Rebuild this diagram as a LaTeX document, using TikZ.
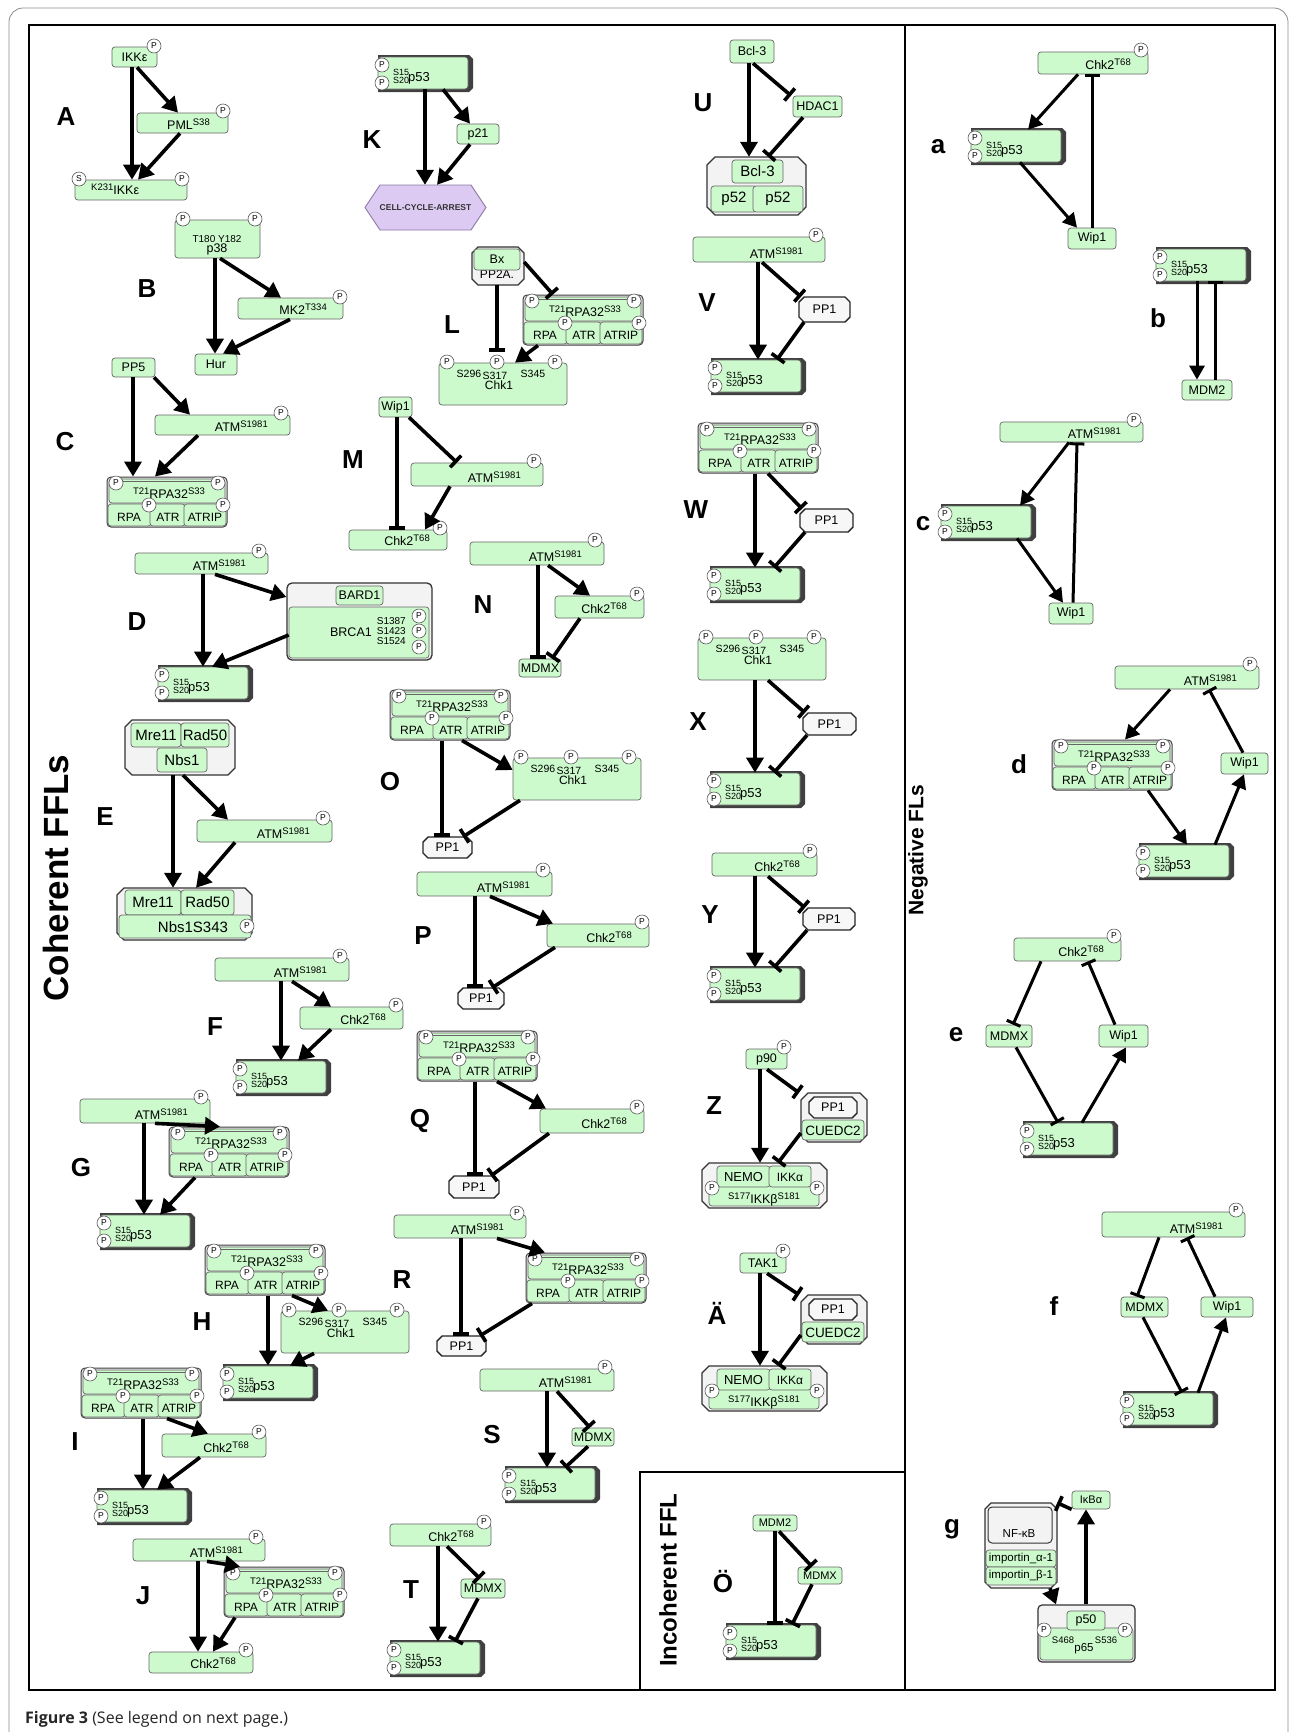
\documentclass[tikz,border=0pt]{standalone}
\usepackage{fontspec}
\setmainfont{Liberation Sans}
\newfontfamily\capfont{Open Sans}
\usetikzlibrary{arrows.meta,calc}
\definecolor{pg}{RGB}{204,250,204}
\definecolor{cxg}{RGB}{243,243,243}
\definecolor{hexc}{RGB}{220,202,243}
\definecolor{hexd}{RGB}{140,120,165}
\newcommand\fs[1]{\fontsize{#1}{#1}\selectfont}
\newcommand\sps[1]{\raisebox{3.5pt}{\fs{9.5}#1}}
\newcounter{pcn}\newcounter{tn}
\tikzset{
  gb/.style={draw=black!60, fill=pg, rounded corners=3pt, line width=0.7pt, inner sep=0pt, font=\fs{12.5}},
  gbd/.style={draw=black!60, fill=pg, rounded corners=3pt, line width=0.7pt},
  cxd/.style={draw=black!80, fill=cxg, line width=1.3pt},
  pc/.style={circle, draw=black!65, fill=white, minimum size=14pt, inner sep=0pt, line width=0.6pt, font=\fs{8.5}},
  tx/.style={inner sep=0pt, font=\fs{12.5}},
  lab/.style={inner sep=0pt, font=\fs{26}\bfseries},
  sect/.style={inner sep=0pt, font=\fs{24}\bfseries, rotate=90},
  hid/.style={inner sep=0pt, draw=none, fill=none},
  act/.style={line width=3.6pt, -{Triangle[length=15pt,width=17pt]}},
  inh/.style={line width=3.6pt, -{Bar[width=16pt]}},
  actn/.style={line width=3pt, -{Triangle[length=14pt,width=15pt]}},
  inhn/.style={line width=3pt, -{Bar[width=15pt]}},
}
\newcommand\gbx[6]{\node[gb, minimum width={(#4)-(#2)}, minimum height={(#5)-(#3)}] (#1) at ({((#2)+(#4))/2},{((#3)+(#5))/2}) {#6};}
\newcommand\hbx[5]{\node[hid, minimum width={(#4)-(#2)}, minimum height={(#5)-(#3)}] (#1) at ({((#2)+(#4))/2},{((#3)+(#5))/2}) {};}
\newcommand\oct[6]{\draw[#1] ({(#2)+(#6)},{#3}) -- ({(#4)-(#6)},{#3}) -- ({#4},{(#3)+(#6)}) -- ({#4},{(#5)-(#6)}) -- ({(#4)-(#6)},{#5}) -- ({(#2)+(#6)},{#5}) -- ({#2},{(#5)-(#6)}) -- ({#2},{(#3)+(#6)}) -- cycle;}
\newcommand\Pc[3][P]{\stepcounter{pcn}\node[pc] (pc\arabic{pcn}) at ({#2},{#3}) {#1};}
\newcommand\Tx[4][]{\stepcounter{tn}\node[tx,#1] (t\arabic{tn}) at ({#2},{#3}) {#4};}
% ATM box
\newcommand\ATM[5]{\gbx{#1}{#2}{#3}{#4}{#5}{}\Tx[anchor=base east]{#4-22}{#5-4}{ATM\sps{S1981}}\Pc{#4-9}{#3-2}}
% Chk2 box
\newcommand\CHK[5]{\gbx{#1}{#2}{#3}{#4}{#5}{}\Tx[anchor=base east]{#4-17}{#5-5}{Chk2\sps{T68}}\Pc{#4-7}{#3-2}}
% p53 (top-left corner)
\newcommand\PFT[3]{%
 \fill[black!75] (#2+3,#3) -- (#2+94,#3) -- (#2+98,#3+4) -- (#2+98,#3+33) -- (#2+94,#3+37) -- (#2+3,#3+37) -- cycle;
 \node[gb, minimum width=90pt, minimum height=32pt] (#1) at (#2+48,#3+18) {};
 \Tx[anchor=base west, font=\fs{9}]{#2+18}{#3+20}{S15}
 \Tx[anchor=base west, font=\fs{9}]{#2+18}{#3+28}{S20}
 \Tx[anchor=base west, font=\fs{13}]{#2+33}{#3+26}{p53}
 \Pc{#2+7}{#3+10}\Pc{#2+7}{#3+28}}
% RPA complex (top-left corner)
\newcommand\RPA[3]{%
 \node[draw=black!75, fill=black!8, rounded corners=4pt, line width=1pt, inner sep=0pt, minimum width=120pt, minimum height=50pt] (#1) at (#2+60,#3+25) {};
 \draw[gbd] (#2+2,#3+2) rectangle (#2+118,#3+26);
 \draw[black!60, line width=0.8pt] (#2+7,#3+4.5) -- (#2+113,#3+4.5);
 \draw[gbd] (#2+1,#3+27) rectangle (#2+44,#3+49);
 \draw[gbd] (#2+43,#3+27) rectangle (#2+78,#3+49);
 \draw[gbd] (#2+77,#3+27) rectangle (#2+119,#3+49);
 \Tx[anchor=base]{#2+62}{#3+21}{\sps{T21}RPA32\sps{S33}}
 \Tx[anchor=base, font=\fs{12}]{#2+22}{#3+44}{RPA}
 \Tx[anchor=base, font=\fs{12}]{#2+61}{#3+44}{ATR}
 \Tx[anchor=base, font=\fs{12}]{#2+98}{#3+44}{ATRIP}
 \Pc{#2+9}{#3+6}\Pc{#2+111}{#3+6}\Pc{#2+42}{#3+28}\Pc{#2+116}{#3+28}}
% Chk1 (top-left corner)
\newcommand\CHKone[3]{%
 \node[gb, minimum width=128pt, minimum height=42pt] (#1) at (#2+64,#3+29) {};
 \Tx[font=\fs{10.5}]{#2+30}{#3+19}{S296}
 \Tx[font=\fs{10.5}]{#2+56}{#3+21}{S317}
 \Tx[font=\fs{10.5}]{#2+94}{#3+19}{S345}
 \Tx[font=\fs{12}]{#2+60}{#3+30.5}{Chk1}
 \Pc{#2+8}{#3+7}\Pc{#2+58}{#3+7}\Pc{#2+116}{#3+7}}
% PP1 octagon
\newcommand\PPone[5]{\oct{draw=black!85, fill=black!3, line width=1.4pt}{#2}{#3}{#4}{#5}{5}\node[hid, font=\fs{12.5}, minimum width={(#4)-(#2)}, minimum height={(#5)-(#3)}] (#1) at ({((#2)+(#4))/2},{((#3)+(#5))/2}) {PP1};}
% NEMO / IKK complex
\newcommand\NEMO[3]{%
 \oct{cxd}{#2}{#3}{#2+125}{#3+45}{7}
 \node[hid, minimum width=125pt, minimum height=45pt] (#1) at (#2+62.5,#3+22.5) {};
 \draw[gbd] (#2+7,#3+22) rectangle (#2+117,#3+43);
 \draw[gbd] (#2+15,#3+3) rectangle (#2+68,#3+24);
 \draw[gbd] (#2+67,#3+3) rectangle (#2+109,#3+24);
 \Tx[font=\fs{13}]{#2+41.5}{#3+14}{NEMO}
 \Tx[font=\fs{12}]{#2+88}{#3+14}{IKKα}
 \Tx[anchor=base]{#2+62}{#3+40}{\sps{S177}IKKβ\sps{S181}}
 \Pc{#2+10}{#3+25}\Pc{#2+115}{#3+25}}
% PP1 / CUEDC2 complex
\newcommand\PPCU[3]{%
 \oct{cxd}{#2}{#3}{#2+66}{#3+49}{7}
 \node[hid, minimum width=66pt, minimum height=49pt] (#1) at (#2+33,#3+24.5) {};
 \draw[gbd] (#2+1,#3+27) rectangle (#2+63,#3+47);
 \PPone{#1pp}{#2+8}{#3+4}{#2+56}{#3+25}
 \Tx[font=\fs{13.5}]{#2+32}{#3+37.5}{CUEDC2}}
\begin{document}
\begin{tikzpicture}[x=1pt,y=-1pt]
\useasboundingbox (0,0) rectangle (1292,1732);
\fill[white] (0,0) rectangle (1292,1732);
% frames
\draw[black!45, line width=0.8pt, rounded corners=14pt] (9,1780) -- (9,8) -- (1288,8) -- (1288,1780);
\draw[line width=1.3pt] (29,25) rectangle (1275,1690);
\draw[line width=1.3pt] (905,25) -- (905,1690);
\draw[line width=1.3pt] (640,1690) -- (640,1472) -- (905,1472);
\node[sect, font=\fs{35}\bfseries] (sc1) at (56,878) {Coherent FFLs};
\node[sect, font=\fs{21}\bfseries] (sc2) at (918,850) {Negative FLs};
\node[sect] (sc3) at (668,1580) {Incoherent FFL};
\node[anchor=base west, inner sep=0pt, font=\capfont\fs{16}, text=black!85] (cap) at (25,1723) {\textbf{Figure 3} (See legend on next page.)};

% ---------------- A
\gbx{ikk1}{112}{47}{157}{67}{IKKε}\Pc{154}{46}
\gbx{pml}{137}{113}{228}{133}{}\Tx[anchor=base east]{210}{129}{PML\sps{S38}}\Pc{223}{111}
\gbx{ikk2}{75}{180}{187}{200}{}\Tx[anchor=base west]{91}{194}{\sps{K231}IKKε}\Pc[S]{79}{179}\Pc{182}{179}
\node[lab] (lA) at (66,117) {A};
\draw[act] (ikk1.south -| 132,0) -- (ikk2.north -| 132,0);
\draw[act] (ikk1.south -| 137,0) -- (pml.north -| 178,0);
\draw[act] (pml.south -| 180,0) -- (ikk2.north -| 138,0);
% ---------------- B
\gbx{p38}{175}{220}{260}{258}{}\Tx[font=\fs{10}]{217}{239}{T180 Y182}\Tx{217}{249}{p38}\Pc{183}{219}\Pc{255}{219}
\gbx{mk2}{238}{298}{343}{319}{}\Tx[anchor=base east]{327}{314}{MK2\sps{T334}}\Pc{340}{297}
\gbx{hur}{195}{354}{237}{375}{Hur}
\node[lab] (lB) at (147,289) {B};
\draw[act] (p38.south -| 215,0) -- (hur.north -| 215,0);
\draw[act] (p38.south -| 220,0) -- (mk2.north -| 281,0);
\draw[act] (mk2.south -| 290,0) -- (hur.north -| 223,0);
% ---------------- C
\gbx{pp5}{112}{358}{155}{377}{PP5}
\ATM{atmC}{155}{415}{290}{435}
\RPA{rpaC}{107}{477}
\node[lab] (lC) at (65,442) {C};
\draw[act] (pp5.south -| 133,0) -- (rpaC.north -| 133,0);
\draw[act] (pp5.south -| 154,0) -- (atmC.north -| 190,0);
\draw[act] (atmC.south -| 198,0) -- (rpaC.north -| 155,0);
% ---------------- D
\ATM{atmD}{135}{553}{268}{574}
\node[draw=black!80, fill=cxg, line width=1.3pt, rounded corners=5pt, minimum width=145pt, minimum height=77pt, inner sep=0pt] (brca) at (359.5,621.5) {};
\gbx{bard}{336}{586}{383}{605}{BARD1}
\gbx{brcag}{289}{607}{429}{658}{}
\Tx[anchor=east]{372}{632}{BRCA1}
\Tx[anchor=east,font=\fs{10}]{406}{621}{S1387}
\Tx[anchor=east,font=\fs{10}]{406}{631}{S1423}
\Tx[anchor=east,font=\fs{10}]{406}{641}{S1524}
\Pc{419}{616}\Pc{419}{631}\Pc{419}{647}
\PFT{p53D}{155}{665}
\node[lab] (lD) at (137,622) {D};
\draw[act] (atmD.south -| 203,0) -- (p53D.north -| 203,0);
\draw[act] (atmD.south -| 215,0) -- (brca.west |- 0,597);
\draw[act] (brcag.west |- 0,635) -- (p53D.north -| 212,0);
% ---------------- E
\oct{cxd}{125}{720}{235}{775}{7}
\hbx{mrn1}{125}{720}{235}{775}
\gbx{m1a}{131}{723}{181}{747}{\fs{15}Mre11}
\gbx{m1b}{181}{723}{229}{747}{\fs{15}Rad50}
\gbx{m1c}{157}{748}{207}{772}{\fs{15}Nbs1}
\ATM{atmE}{197}{820}{332}{842}
\oct{cxd}{117}{888}{252}{940}{7}
\hbx{mrn2}{117}{888}{252}{940}
\gbx{m2a}{125}{890}{181}{915}{\fs{15}Mre11}
\gbx{m2b}{181}{890}{234}{915}{\fs{15}Rad50}
\gbx{m2c}{119}{915}{251}{938}{}
\Tx[font=\fs{15}]{193}{927}{Nbs1S343}\Pc{247}{926}
\node[lab] (lE) at (105,817) {E};
\draw[act] (mrn1.south -| 173,0) -- (mrn2.north -| 173,0);
\draw[act] (mrn1.south -| 183,0) -- (atmE.north -| 228,0);
\draw[act] (atmE.south -| 235,0) -- (mrn2.north -| 196,0);
% ---------------- F
\ATM{atmF}{215}{958}{349}{981}
\CHK{chk2F}{300}{1007}{403}{1029}
\PFT{p53F}{233}{1059}
\node[lab] (lF) at (215,1027) {F};
\draw[act] (atmF.south -| 281,0) -- (p53F.north -| 281,0);
\draw[act] (atmF.south -| 292,0) -- (chk2F.north -| 331,0);
\draw[act] (chk2F.south -| 331,0) -- (p53F.north -| 298,0);
% ---------------- G
\ATM{atmG}{80}{1099}{210}{1123}
\RPA{rpaG}{169}{1127}
\PFT{p53G}{97}{1213}
\node[lab] (lG) at (81,1168) {G};
\draw[act] (atmG.south -| 144,0) -- (p53G.north -| 144,0);
\draw[act] (atmG.south -| 155,0) -- (rpaG.north -| 220,0);
\draw[act] (rpaG.south -| 195,0) -- (p53G.north -| 160,0);
% ---------------- H
\RPA{rpaH}{205}{1245}
\CHKone{chk1H}{281}{1303}
\PFT{p53H}{220}{1364}
\node[lab] (lH) at (202,1322) {H};
\draw[act] (rpaH.south -| 268,0) -- (p53H.north -| 268,0);
\draw[act] (rpaH.south -| 292,0) -- (chk1H.north -| 328,0);
\draw[act] (chk1H.south -| 314,0) -- (p53H.north -| 290,0);
% ---------------- I
\RPA{rpaI}{81}{1368}
\CHK{chk2I}{162}{1434}{266}{1457}
\PFT{p53I}{94}{1488}
\node[lab] (lI) at (75,1442) {I};
\draw[act] (rpaI.south -| 143,0) -- (p53I.north -| 143,0);
\draw[act] (rpaI.south -| 167,0) -- (chk2I.north -| 208,0);
\draw[act] (chk2I.south -| 200,0) -- (p53I.north -| 157,0);
% ---------------- J
\ATM{atmJ}{133}{1539}{265}{1561}
\RPA{rpaJ}{224}{1567}
\CHK{chk2J}{149}{1652}{253}{1673}
\node[lab] (lJ) at (143,1596) {J};
\draw[act] (atmJ.south -| 198,0) -- (chk2J.north -| 198,0);
\draw[act] (atmJ.south -| 207,0) -- (rpaJ.north -| 240,0);
\draw[act] (rpaJ.south -| 235,0) -- (chk2J.north -| 213,0);
% ---------------- K
\PFT{p53K}{375}{55}
\gbx{p21}{457}{124}{499}{144}{p21}
\filldraw[fill=hexc, draw=hexd, line width=0.9pt] (365,207.5) -- (380,185) -- (471,185) -- (486,207.5) -- (471,230) -- (380,230) -- cycle;
\node[hid, minimum width=121pt, minimum height=45pt, font=\fs{8.5}\bfseries, text=black!80] (cca) at (425.5,207.5) {CELL-CYCLE-ARREST};
\node[lab] (lK) at (372,140) {K};
\draw[act] (p53K.south -| 425,0) -- (cca.north -| 425,0);
\draw[act] (p53K.south -| 443,0) -- (p21.north -| 470,0);
\draw[act] (p21.south -| 470,0) -- (cca.north -| 437,0);
% ---------------- L
\oct{cxd}{472}{247}{524}{285}{6}
\hbx{bx}{472}{247}{524}{285}
\Tx[font=\fs{12}]{497}{274}{PP2A.}
\gbx{bxg}{474}{249}{520}{270}{Bx}
\RPA{rpaL}{523}{295}
\CHKone{chk1L}{439}{355}
\node[lab] (lL) at (452,325) {L};
\draw[inh, shorten >=11pt] (bx.south -| 497,0) -- (chk1L.north -| 497,0);
\draw[inh] (bx.east |- 0,262) -- (rpaL.north -| 553,0);
\draw[act] (rpaL.south -| 538,0) -- (chk1L.north -| 515,0);
% ---------------- M
\gbx{wip1M}{379}{397}{412}{417}{Wip1}
\ATM{atmM}{411}{463}{543}{486}
\CHK{chk2M}{349}{530}{447}{550}
\node[lab] (lM) at (353,460) {M};
\draw[inh] (wip1M.south -| 397,0) -- (chk2M.north -| 397,0);
\draw[inh] (wip1M.south -| 409,0) -- (atmM.north -| 457,0);
\draw[act] (atmM.south -| 450,0) -- (chk2M.north -| 425,0);
% ---------------- N
\ATM{atmN}{470}{542}{604}{565}
\CHK{chk2N}{555}{596}{644}{618}
\gbx{mdmxN}{519}{659}{561}{677}{MDMX}
\node[lab] (lN) at (483,605) {N};
\draw[inh] (atmN.south -| 538,0) -- (mdmxN.north -| 538,0);
\draw[act] (atmN.south -| 548,0) -- (chk2N.north -| 590,0);
\draw[inh] (chk2N.south -| 580,0) -- (mdmxN.north -| 552,0);
% ---------------- O
\RPA{rpaO}{390}{690}
\CHKone{chk1O}{513}{750}
\PPone{pp1O}{423}{837}{472}{858}
\node[lab] (lO) at (390,782) {O};
\draw[inh] (rpaO.south -| 442,0) -- (pp1O.north -| 442,0);
\draw[act] (rpaO.south -| 462,0) -- (chk1O.west |- 0,770);
\draw[inh] (chk1O.south -| 520,0) -- (pp1O.north -| 463,0);
% ---------------- P
\ATM{atmP}{417}{872}{552}{896}
\CHK{chk2P}{547}{924}{649}{947}
\PPone{pp1P}{458}{988}{504}{1009}
\node[lab] (lP) at (423,936) {P};
\draw[inh] (atmP.south -| 475,0) -- (pp1P.north -| 475,0);
\draw[act] (atmP.south -| 490,0) -- (chk2P.north -| 553,0);
\draw[inh] (chk2P.south -| 555,0) -- (pp1P.north -| 492,0);
% ---------------- Q
\RPA{rpaQ}{417}{1031}
\CHK{chk2Q}{540}{1109}{644}{1133}
\PPone{pp1Q}{449}{1176}{499}{1198}
\node[lab] (lQ) at (420,1121) {Q};
\draw[inh] (rpaQ.south -| 475,0) -- (pp1Q.north -| 475,0);
\draw[act] (rpaQ.south -| 497,0) -- (chk2Q.north -| 546,0);
\draw[inh] (chk2Q.south -| 549,0) -- (pp1Q.north -| 491,0);
% ---------------- R
\ATM{atmR}{394}{1215}{526}{1238}
\RPA{rpaR}{526}{1253}
\PPone{pp1R}{437}{1336}{486}{1356}
\node[lab] (lR) at (402,1280) {R};
\draw[inh] (atmR.south -| 461,0) -- (pp1R.north -| 461,0);
\draw[act] (atmR.south -| 497,0) -- (rpaR.north -| 545,0);
\draw[inh] (rpaR.south -| 532,0) -- (pp1R.north -| 480,0);
% ---------------- S
\ATM{atmS}{480}{1369}{614}{1391}
\gbx{mdmxS}{572}{1428}{614}{1446}{MDMX}
\PFT{p53S}{502}{1466}
\node[lab] (lS) at (492,1435) {S};
\draw[act] (atmS.south -| 547,0) -- (p53S.north -| 547,0);
\draw[inh] (atmS.south -| 557,0) -- (mdmxS.north -| 590,0);
\draw[inh] (mdmxS.south -| 588,0) -- (p53S.north -| 565,0);
% ---------------- T
\CHK{chk2T}{390}{1524}{491}{1546}
\gbx{mdmxT}{461}{1579}{505}{1598}{MDMX}
\PFT{p53T}{387}{1640}
\node[lab] (lT) at (411,1590) {T};
\draw[act] (chk2T.south -| 438,0) -- (p53T.north -| 438,0);
\draw[inh] (chk2T.south -| 447,0) -- (mdmxT.north -| 480,0);
\draw[inh] (mdmxT.south -| 478,0) -- (p53T.north -| 455,0);
% ---------------- U
\gbx{bcl3}{730}{40}{774}{63}{Bcl-3}
\gbx{hdac1}{793}{96}{842}{117}{HDAC1}
\oct{cxd}{707}{157}{806}{215}{8}
\hbx{ucx}{707}{157}{806}{215}
\gbx{ub}{732}{160}{783}{183}{\fs{15}Bcl-3}
\gbx{up1}{711}{186}{757}{212}{\fs{15}p52}
\gbx{up2}{753}{186}{803}{212}{\fs{15}p52}
\node[lab] (lU) at (703,103) {U};
\draw[act] (bcl3.south -| 749,0) -- (ucx.north -| 749,0);
\draw[inh] (bcl3.south -| 753,0) -- (hdac1.north -| 791,0);
\draw[inh] (hdac1.south -| 803,0) -- (ucx.north -| 768,0);
% ---------------- V
\ATM{atmV}{693}{237}{825}{262}
\PPone{pp1V}{799}{297}{850}{322}
\PFT{p53V}{708}{358}
\node[lab] (lV) at (707,303) {V};
\draw[act] (atmV.south -| 758,0) -- (p53V.north -| 758,0);
\draw[inh] (atmV.south -| 762,0) -- (pp1V.north -| 801,0);
\draw[inh] (pp1V.south -| 804,0) -- (p53V.north -| 777,0);
% ---------------- W
\RPA{rpaW}{698}{423}
\PPone{pp1W}{800}{509}{853}{532}
\PFT{p53W}{707}{566}
\node[lab] (lW) at (696,510) {W};
\draw[act] (rpaW.south -| 755,0) -- (p53W.north -| 755,0);
\draw[inh] (rpaW.south -| 768,0) -- (pp1W.north -| 802,0);
\draw[inh] (pp1W.south -| 805,0) -- (p53W.north -| 774,0);
% ---------------- X
\CHKone{chk1X}{698}{630}
\PPone{pp1X}{803}{713}{856}{735}
\PFT{p53X}{707}{771}
\node[lab] (lX) at (698,722) {X};
\draw[act] (chk1X.south -| 755,0) -- (p53X.north -| 755,0);
\draw[inh] (chk1X.south -| 768,0) -- (pp1X.north -| 805,0);
\draw[inh] (pp1X.south -| 807,0) -- (p53X.north -| 774,0);
% ---------------- Y
\CHK{chk2Y}{712}{853}{817}{876}
\PPone{pp1Y}{803}{908}{855}{930}
\PFT{p53Y}{707}{966}
\node[lab] (lY) at (710,915) {Y};
\draw[act] (chk2Y.south -| 755,0) -- (p53Y.north -| 755,0);
\draw[inh] (chk2Y.south -| 768,0) -- (pp1Y.north -| 805,0);
\draw[inh] (pp1Y.south -| 807,0) -- (p53Y.north -| 774,0);
% ---------------- Z
\gbx{p90}{746}{1049}{787}{1069}{p90}\Pc{784}{1047}
\PPCU{ppcuZ}{801}{1093}
\NEMO{nemoZ}{702}{1163}
\node[lab] (lZ) at (714,1106) {Z};
\draw[act] (p90.south -| 760,0) -- (nemoZ.north -| 760,0);
\draw[inh] (p90.south -| 767,0) -- (ppcuZ.north -| 799,0);
\draw[inh] (ppcuZ.west |- 0,1133) -- (nemoZ.north -| 778,0);
% ---------------- AE
\gbx{tak1}{740}{1253}{786}{1273}{TAK1}\Pc{783}{1251}
\PPCU{ppcuA}{801}{1295}
\NEMO{nemoA}{702}{1366}
\node[lab] (lAe) at (717,1313) {Ä};
\draw[act] (tak1.south -| 760,0) -- (nemoA.north -| 760,0);
\draw[inh] (tak1.south -| 767,0) -- (ppcuA.north -| 799,0);
\draw[inh] (ppcuA.west |- 0,1335) -- (nemoA.north -| 778,0);
% ---------------- OE
\gbx{mdm2O}{753}{1515}{797}{1531}{\fs{11}MDM2}
\gbx{mdmxO}{798}{1567}{842}{1584}{\fs{11}MDMX}
\PFT{p53O}{723}{1623}
\node[lab] (lOe) at (723,1582) {Ö};
\draw[inh] (mdm2O.south -| 775,0) -- (p53O.north -| 775,0);
\draw[inh] (mdm2O.south -| 779,0) -- (mdmxO.north -| 812,0);
\draw[inh] (mdmxO.south -| 812,0) -- (p53O.north -| 792,0);

% ================= Negative FLs
% a
\CHK{chk2a}{1038}{52}{1148}{74}
\PFT{p53a}{968}{128}
\gbx{wip1a}{1068}{228}{1116}{249}{Wip1}
\node[lab] (la) at (938,147) {a};
\draw[actn] (chk2a.south -| 1078,0) -- (p53a.north -| 1028,0);
\draw[actn] (p53a.south -| 1020,0) -- (wip1a.north -| 1077,0);
\draw[inhn] (wip1a.north -| 1092,0) -- (chk2a.south -| 1092,0);
% b
\PFT{p53b}{1153}{247}
\gbx{mdm2b}{1182}{380}{1232}{400}{MDM2}
\node[lab] (lb) at (1158,318) {b};
\draw[actn] (p53b.south -| 1197,0) -- (mdm2b.north -| 1197,0);
\draw[inhn] (mdm2b.north -| 1215,0) -- (p53b.south -| 1215,0);
% c
\ATM{atmc}{1000}{422}{1143}{442}
\PFT{p53c}{938}{504}
\gbx{wip1c}{1049}{603}{1093}{624}{Wip1}
\node[lab] (lc) at (923,524) {c};
\draw[actn] (atmc.south -| 1069,0) -- (p53c.north -| 1020,0);
\draw[actn] (p53c.south -| 1017,0) -- (wip1c.north -| 1063,0);
\draw[inhn] (wip1c.north -| 1073,0) -- (atmc.south -| 1077,0);
% d
\ATM{atmd}{1115}{666}{1259}{689}
\RPA{rpad}{1052}{740}
\gbx{wip1d}{1221}{753}{1268}{774}{Wip1}
\PFT{p53d}{1136}{843}
\node[lab] (ld) at (1019,764) {d};
\draw[actn] (atmd.south -| 1170,0) -- (rpad.north -| 1125,0);
\draw[actn] (rpad.south -| 1148,0) -- (p53d.north -| 1187,0);
\draw[actn] (p53d.north -| 1215,0) -- (wip1d.south -| 1244,0);
\draw[inhn] (wip1d.north -| 1243,0) -- (atmd.south -| 1209,0);
% e
\CHK{chk2e}{1014}{938}{1121}{961}
\gbx{mdmxe}{986}{1025}{1032}{1047}{MDMX}
\gbx{wip1e}{1099}{1025}{1148}{1047}{Wip1}
\PFT{p53e}{1020}{1121}
\node[lab] (le) at (956,1035) {e};
\draw[inhn] (chk2e.south -| 1041,0) -- (mdmxe.north -| 1013,0);
\draw[inhn] (mdmxe.south -| 1016,0) -- (p53e.north -| 1058,0);
\draw[actn] (p53e.north -| 1082,0) -- (wip1e.south -| 1126,0);
\draw[inhn] (wip1e.north -| 1115,0) -- (chk2e.south -| 1088,0);
% f
\ATM{atmf}{1102}{1212}{1245}{1237}
\gbx{mdmxf}{1121}{1297}{1168}{1317}{MDMX}
\gbx{wip1f}{1201}{1297}{1253}{1317}{Wip1}
\PFT{p53f}{1120}{1391}
\node[lab] (lf) at (1054,1306) {f};
\draw[inhn] (atmf.south -| 1159,0) -- (mdmxf.north -| 1137,0);
\draw[inhn] (mdmxf.south -| 1143,0) -- (p53f.north -| 1182,0);
\draw[actn] (p53f.north -| 1198,0) -- (wip1f.south -| 1226,0);
\draw[inhn] (wip1f.north -| 1215,0) -- (atmf.south -| 1187,0);
% g
\gbx{ikba}{1072}{1491}{1110}{1509}{\fs{11}IκBα}
\oct{cxd}{985}{1503}{1057}{1588}{6}
\hbx{nfkb}{985}{1503}{1057}{1588}
\node[draw=black!80, fill=cxg, rounded corners=4pt, line width=1pt, minimum width=64pt, minimum height=36pt, inner sep=0pt] (nfkbi) at (1020,1525) {};
\Tx[font=\fs{11.5}]{1019}{1534}{NF-κB}
\gbx{impa}{986}{1550}{1056}{1567}{\fs{11.5}importin\_α-1}
\gbx{impb}{986}{1567}{1056}{1585}{\fs{11.5}importin\_β-1}
\node[draw=black!80, fill=cxg, line width=1.2pt, rounded corners=4pt, minimum width=97pt, minimum height=57pt, inner sep=0pt] (p5065) at (1086.5,1633.5) {};
\gbx{p65}{1040}{1628}{1133}{1660}{}
\gbx{p50}{1067}{1611}{1105}{1630}{p50}
\Tx[font=\fs{9.5}]{1063}{1640}{S468}
\Tx[font=\fs{9.5}]{1106}{1640}{S536}
\Tx[font=\fs{11.5}]{1084}{1649}{p65}
\Pc{1044}{1630}\Pc{1125}{1630}
\node[lab] (lg) at (952,1529) {g};
\draw[act] (p5065.north -| 1086,0) -- (ikba.south -| 1086,0);
\draw[inh] (ikba.south west) -- (nfkb.north east);
\draw[act] (nfkb.south -| 1050,0) -- (p5065.north -| 1056,0);
\end{tikzpicture}
\end{document}
